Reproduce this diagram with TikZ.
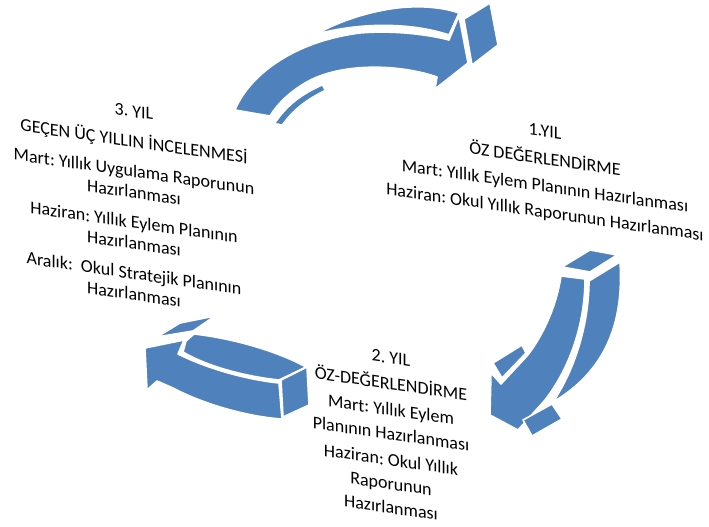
\documentclass[tikz,border=0pt]{standalone}
\usepackage{fontspec}
\setmainfont{Carlito}
\frenchspacing
\definecolor{arrowblue}{RGB}{79,129,189}
\tikzset{
  face/.style={fill=arrowblue, draw=white, line width=1.6pt, line join=round},
  sliver/.style={fill=arrowblue},
  yeartext/.style={align=center, inner sep=0pt, text=black,
    font=\fontsize{18}{21}\selectfont},
  slanted/.style={yslant=-0.145, transform shape}
}
\begin{document}
\begin{tikzpicture}[x=1pt,y=-1pt]
\useasboundingbox (0,0) rectangle (709,527);

% ---- top arrow (year 3 -> year 1)
\path[sliver] (276,123) .. controls (287,107) and (300,96) .. (322,86)
  -- (324,90) .. controls (304,100) and (292,110) .. (282,124) -- cycle;
\path[face] (235,110) .. controls (248,78) and (290,42) .. (360,33)
  .. controls (395,30) and (430,35) .. (449,40) -- (459,16) -- (468,63)
  -- (435,89) -- (437,77) .. controls (400,64) and (340,62) .. (305,83)
  .. controls (290,92) and (278,103) .. (270,116) -- cycle;
\path[face] (317,34) .. controls (340,20) and (380,8) .. (410,7)
  .. controls (430,6) and (448,9) .. (459,13) -- (449,35)
  .. controls (420,25) and (370,20) .. (317,34) -- cycle;
\path[face] (464,19) -- (490,3) -- (498,45) -- (472,65) -- cycle;

% ---- right arrow (year 1 -> year 2)
\path[face] (562,267) -- (590,250) -- (617,255) -- (590,272) -- cycle;
\path[face] (589,281) -- (620,262) .. controls (624,325) and (604,372) .. (553,402)
  .. controls (576,368) and (589,322) .. (589,281) -- cycle;
\path[face] (561,276) -- (585,279) .. controls (585,320) and (572,365) .. (545,400)
  -- (518,430) -- (490,415) -- (491,373) -- (501,384) -- (527,356)
  .. controls (540,340) and (556,310) .. (561,276) -- cycle;
\path[face] (493,363) -- (522,345) -- (526,353) -- (502,378) -- cycle;
\path[face] (523,420) -- (552,404) -- (562,419) -- (532,436) -- cycle;

% ---- left arrow (year 2 -> year 3)
\path[face] (194,334) .. controls (230,338) and (275,350) .. (306,367)
  -- (279,380) .. controls (250,377) and (210,368) .. (183,352) -- (186,341) -- cycle;
\path[face] (145,348) -- (184,340) -- (178,354) .. controls (210,370) and (250,380) .. (279,383)
  -- (282,419) .. controls (250,417) and (205,405) .. (173,388)
  -- (157,381) -- (147,390) -- cycle;
\path[face] (157,337) -- (180,323) -- (215,316) -- (193,331) -- cycle;
\path[face] (281,380) -- (307,367) -- (309,405) -- (283,417) -- cycle;

% ---- year texts
\begin{scope}[shift={(545,173)}, slanted]
\node[yeartext] (y1) at (0,0) {1.YIL\\[7pt]
  ÖZ DEĞERLENDİRME\\[6pt]
  Mart: Yıllık Eylem Planının Hazırlanması\\[5pt]
  Haziran: Okul Yıllık Raporunun Hazırlanması};
\end{scope}

\begin{scope}[shift={(391,433)}, slanted]
\node[yeartext] (y2) at (0,0) {2. YIL\\[5pt]
  ÖZ-DEĞERLENDİRME\\[5pt]
  Mart: Yıllık Eylem\\[3pt]
  Planının Hazırlanması\\[5pt]
  Haziran: Okul Yıllık\\[3pt]
  Raporunun\\[3pt]
  Hazırlanması};
\end{scope}

\begin{scope}[shift={(134,203)}, slanted]
\node[yeartext] (y3) at (0,0) {3. YIL\\[9pt]
  GEÇEN ÜÇ YILLIN İNCELENMESİ\\[9pt]
  Mart: Yıllık Uygulama Raporunun\\
  Hazırlanması\\[9pt]
  Haziran: Yıllık Eylem Planının\\
  Hazırlanması\\[9pt]
  Aralık:~ Okul Stratejik Planının\\
  Hazırlanması};
\end{scope}
\end{tikzpicture}
\end{document}
